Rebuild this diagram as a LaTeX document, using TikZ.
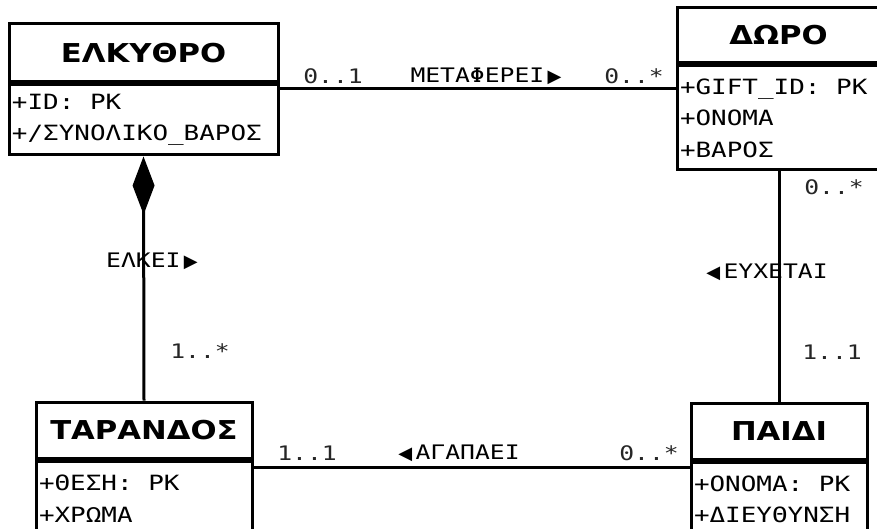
\documentclass[tikz,border=0pt]{standalone}
\usepackage{fontspec}
\usetikzlibrary{arrows.meta, positioning}
\newfontfamily\attrfont[FakeStretch=1.235]{DejaVu Sans Mono}
\newfontfamily\titlefont[FakeStretch=1.18]{DejaVu Sans}
\newfontfamily\symfont{DejaVu Sans}
\newcommand{\rtri}{{\symfont\fontsize{18}{18}\selectfont ▶}}
\newcommand{\ltri}{{\symfont\fontsize{18}{18}\selectfont ◀}}
\newcommand{\msp}{\hphantom{0}}

\begin{document}
\begin{tikzpicture}[x=1pt, y=-1pt,
    titlebox/.style={draw, line width=3pt, inner sep=0pt,
      font=\titlefont\bfseries\fontsize{26}{26}\selectfont},
    attrbox/.style={draw, line width=3pt, inner sep=3pt, anchor=north west,
      align=left, font=\attrfont\fontsize{21}{31.5}\selectfont},
    link/.style={line width=3pt},
    lbl/.style={inner sep=0pt, text=black!85,
      font=\attrfont\fontsize{20}{20}\selectfont}]
  \useasboundingbox (0,0) rectangle (877,529);
  \clip (0,0) rectangle (877,529);
  % classes
  \node[titlebox, minimum width=269, minimum height=58] (elk) at (143.5,53) {ΕΛΚΥΘΡΟ};
  \node[attrbox, text width=263, minimum height=70] (elkattr) at (elk.south west)
    {+ID:\msp PK\\+/ΣΥΝΟΛΙΚΟ\_ΒΑΡΟΣ};
  \node[titlebox, minimum width=203, minimum height=55] (doro) at (778.5,35.5) {ΔΩΡΟ};
  \node[attrbox, text width=197, minimum height=104] (doroattr) at (doro.south west)
    {+GIFT\_ID:\msp PK\\+ΟΝΟΜΑ\\+ΒΑΡΟΣ};
  \node[titlebox, minimum width=216, minimum height=56] (tar) at (144,430) {ΤΑΡΑΝΔΟΣ};
  \node[attrbox, text width=210, minimum height=75] (tarattr) at (tar.south west)
    {+ΘΕΣΗ:\msp PK\\+ΧΡΩΜΑ};
  \node[titlebox, minimum width=176, minimum height=56] (paidi) at (779,431) {ΠΑΙΔΙ};
  \node[attrbox, text width=170, minimum height=75] (paidiattr) at (paidi.south west)
    {+ΟΝΟΜΑ:\msp PK\\+ΔΙΕΥΘΥΝΣΗ};
  % associations
  \draw[link] ([yshift=-5pt]elkattr.north east) -- ([yshift=-5pt]elkattr.north east -| doroattr.west);
  \draw[link] (paidi.north) -- (paidi.north |- doroattr.south);
  \draw[link] ([yshift=-8pt]tarattr.north east) -- ([yshift=-8pt]tarattr.north east -| paidiattr.west);
  \draw[link, {Diamond[length=58pt, width=22pt]}-] (elkattr.south) -- (tar.north);
  % labels
  \node[lbl] (m1) at (333,76) {0..1};
  \node[lbl, text=black] (r1) at (486,76) {ΜΕΤΑΦΕΡΕΙ\,\rtri};
  \node[lbl] (m2) at (634,76) {0..*};
  \node[lbl] (m3) at (834,187) {0..*};
  \node[lbl, text=black] (r2) at (767,272) {\ltri\,ΕΥΧΕΤΑΙ};
  \node[lbl] (m4) at (832,352) {1..1};
  \node[lbl, text=black] (r3) at (152,261) {ΕΛΚΕΙ\,\rtri};
  \node[lbl] (m5) at (200,351) {1..*};
  \node[lbl] (m6) at (307,453) {1..1};
  \node[lbl, text=black] (r4) at (459,453) {\ltri\,ΑΓΑΠΑΕΙ};
  \node[lbl] (m7) at (649,453) {0..*};
\end{tikzpicture}
\end{document}
